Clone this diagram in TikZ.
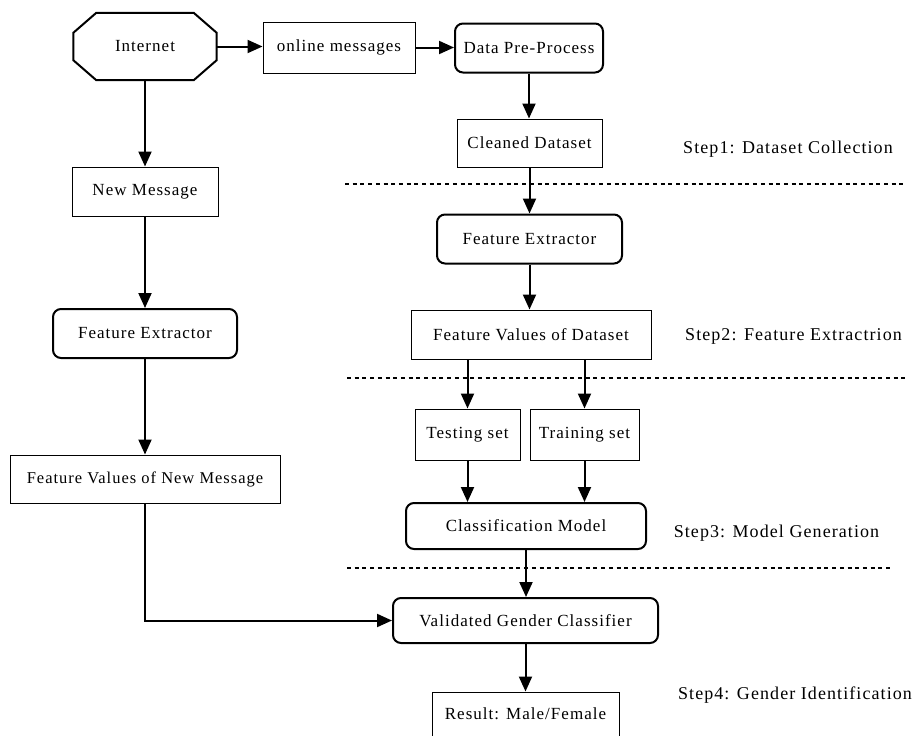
\documentclass[tikz,border=0pt]{standalone}
\usepackage{fontspec}
\setmainfont{Liberation Serif}[LetterSpace=6]
\usetikzlibrary{arrows.meta,calc}
\begin{document}
\begin{tikzpicture}[x=1pt,y=-1pt,
  every node/.style={font=\fontsize{17}{19}\selectfont, inner sep=0pt, align=center},
  thinbox/.style={draw, line width=1pt, rectangle},
  roundbox/.style={draw, line width=2pt, rectangle, rounded corners=8pt},
  arr/.style={line width=2pt, -{Triangle[length=15pt,width=13pt]}},
  sep/.style={line width=1.6pt, dash pattern=on 4pt off 3.7pt},
  steplabel/.style={font=\fontsize{18}{20}\selectfont}
]
\clip (0,0) rectangle (918,736);
\fill[white] (0,0) rectangle (918,736);

% left column
\node (internet) at (145,46.5) [minimum width=143pt, minimum height=67pt] {Internet};
\draw[line width=2pt] ($(internet.north west)+(23,0)$) -- ($(internet.north east)+(-23,0)$)
  -- ($(internet.north east)+(0,20)$) -- ($(internet.south east)+(0,-20)$)
  -- ($(internet.south east)+(-23,0)$) -- ($(internet.south west)+(23,0)$)
  -- ($(internet.south west)+(0,-20)$) -- ($(internet.north west)+(0,20)$) -- cycle;
\node[thinbox, minimum width=146pt, minimum height=49pt] (newmsg) at (145,191.5) {New Message};
\node[roundbox, minimum width=184pt, minimum height=49pt] (fe1) at (145,333.5) {Feature Extractor};
\node[thinbox, minimum width=270pt, minimum height=48pt, font=\fontsize{16.5}{19}\selectfont] (fvn) at (145,479) {Feature Values of New Message};

% top row
\node[thinbox, minimum width=152pt, minimum height=51pt] (online) at (339,47.5) {online messages};
\node[roundbox, minimum width=148pt, minimum height=49pt] (dpp) at (529,48) {Data Pre-Process};

% right column
\node[thinbox, minimum width=145pt, minimum height=48pt] (clean) at (529.5,143) {Cleaned Dataset};
\node[roundbox, minimum width=185pt, minimum height=49pt] (fe2) at (529.5,239) {Feature Extractor};
\node[thinbox, minimum width=240pt, minimum height=49pt] (fvd) at (531,334.5) {Feature Values of Dataset};
\node[thinbox, minimum width=105pt, minimum height=51pt] (test) at (467.5,434.5) {Testing set};
\node[thinbox, minimum width=109pt, minimum height=51pt] (train) at (584.5,434.5) {Training set};
\node[roundbox, minimum width=240pt, minimum height=46pt] (cm) at (526,526) {Classification Model};
\node[roundbox, minimum width=265pt, minimum height=45pt] (vgc) at (525.5,620.5) {Validated Gender Classifier};
\node[thinbox, minimum width=187pt, minimum height=90pt, text depth=0pt] (result) at (525.5,737) {};
\node (resulttext) at (525.5,714) {Result: Male/Female};

% step labels
\node[steplabel] (s1) at (788,149) {Step1: Dataset Collection};
\node[steplabel] (s2) at (793.5,336) {Step2: Feature Extractrion};
\node[steplabel] (s3) at (776.5,533) {Step3: Model Generation};
\node[steplabel] (s4) at (795,695) {Step4: Gender Identification};

% separators
\coordinate (d1a) at (345,184); \coordinate (d1b) at (905,184);
\coordinate (d2a) at (347,378); \coordinate (d2b) at (905,378);
\coordinate (d3a) at (347,568); \coordinate (d3b) at (890,568);
\draw[sep] (d1a) -- (d1b);
\draw[sep] (d2a) -- (d2b);
\draw[sep] (d3a) -- (d3b);

% connectors
\draw[arr] (internet.east) -- (online.west |- internet.east);
\draw[arr] (online.east) -- (dpp.west |- online.east);
\draw[arr] (dpp.south) -- (clean.north -| dpp.south);
\draw[arr] (clean.south) -- (fe2.north -| clean.south);
\draw[arr] (fe2.south) -- (fvd.north -| fe2.south);
\draw[arr] (fvd.south -| test.north) -- (test.north);
\draw[arr] (fvd.south -| train.north) -- (train.north);
\draw[arr] (test.south) -- (cm.north -| test.south);
\draw[arr] (train.south) -- (cm.north -| train.south);
\draw[arr] (cm.south) -- (vgc.north -| cm.south);
\draw[arr] (vgc.south) -- (result.north -| vgc.south);
\draw[arr] (internet.south) -- (newmsg.north);
\draw[arr] (newmsg.south) -- (fe1.north);
\draw[arr] (fe1.south) -- (fvn.north);
\draw[arr] (fvn.south) |- (vgc.west);
\end{tikzpicture}
\end{document}
